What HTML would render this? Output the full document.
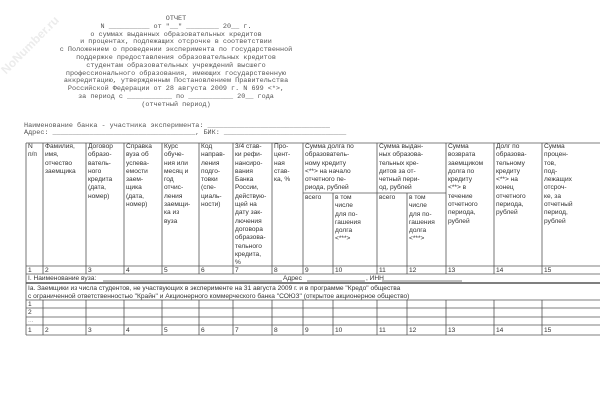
<!DOCTYPE html>
<html><head><meta charset="utf-8"><style>
html,body{margin:0;padding:0;background:#fff;}
body{width:600px;height:420px;position:relative;overflow:hidden;font-family:"Liberation Sans",sans-serif;color:#333;}
.t{position:absolute;left:0;width:352px;top:16px;text-align:center;font-family:"Liberation Mono",monospace;font-size:6.8px;line-height:7.8px;white-space:pre;color:#555;}
.m{position:absolute;font-family:"Liberation Mono",monospace;font-size:6.8px;color:#555;white-space:pre;}
.c{position:absolute;font-size:6.6px;line-height:8.3px;color:#333;white-space:pre;margin-top:2px;}
.wm{position:absolute;left:-8px;top:38px;transform:rotate(-45deg);font-size:12px;font-weight:bold;color:#ececec;font-family:"Liberation Sans",sans-serif;}
svg{position:absolute;left:0;top:0;}
</style></head><body>
<div class="wm">NoNumber.ru</div>
<div class="t">ОТЧЕТ
N __________ от "__" ________ 20__ г.
о суммах выданных образовательных кредитов
и процентах, подлежащих отсрочке в соответствии
с Положением о проведении эксперимента по государственной
поддержке предоставления образовательных кредитов
студентам образовательных учреждений высшего
профессионального образования, имеющих государственную
аккредитацию, утвержденным Постановлением Правительства
Российской Федерации от 28 августа 2009 г. N 699 &lt;*&gt;,
за период с ___________ по ___________ 20__ года
(отчетный период)</div>
<div class="m" style="left:24px;top:122px">Наименование банка - участника эксперимента: ______________________________</div>
<div class="m" style="left:24px;top:129px">Адрес: ___________________________________, БИК: ______________________________</div>
<svg width="600" height="420">
<g stroke="#555" stroke-width="0.8" fill="none">
<line x1="26" y1="143" x2="600" y2="143"/>
<line x1="303" y1="193" x2="446" y2="193"/>
<line x1="26" y1="266" x2="600" y2="266"/>
<line x1="26" y1="274" x2="600" y2="274"/>
<line x1="26" y1="283" x2="600" y2="283" stroke-width="1.4"/>
<line x1="26" y1="300" x2="600" y2="300"/>
<line x1="26" y1="308" x2="600" y2="308"/>
<line x1="26" y1="317" x2="600" y2="317"/>
<line x1="26" y1="325" x2="600" y2="325"/>
<line x1="26" y1="335" x2="600" y2="335"/>
<line x1="26" y1="143" x2="26" y2="335"/>
<g>
<line x1="43" y1="143" x2="43" y2="274"/><line x1="86" y1="143" x2="86" y2="274"/>
<line x1="124" y1="143" x2="124" y2="274"/><line x1="162" y1="143" x2="162" y2="274"/>
<line x1="199" y1="143" x2="199" y2="274"/><line x1="233" y1="143" x2="233" y2="274"/>
<line x1="272" y1="143" x2="272" y2="274"/><line x1="303" y1="143" x2="303" y2="274"/>
<line x1="333" y1="193" x2="333" y2="274"/><line x1="377" y1="143" x2="377" y2="274"/>
<line x1="407" y1="193" x2="407" y2="274"/><line x1="446" y1="143" x2="446" y2="274"/>
<line x1="494" y1="143" x2="494" y2="274"/><line x1="542" y1="143" x2="542" y2="274"/>
</g>
<g>
<line x1="43" y1="300" x2="43" y2="335"/><line x1="86" y1="300" x2="86" y2="335"/>
<line x1="124" y1="300" x2="124" y2="335"/><line x1="162" y1="300" x2="162" y2="335"/>
<line x1="199" y1="300" x2="199" y2="335"/><line x1="233" y1="300" x2="233" y2="335"/>
<line x1="272" y1="300" x2="272" y2="335"/><line x1="303" y1="300" x2="303" y2="335"/>
<line x1="333" y1="300" x2="333" y2="335"/><line x1="377" y1="300" x2="377" y2="335"/>
<line x1="407" y1="300" x2="407" y2="335"/><line x1="446" y1="300" x2="446" y2="335"/>
<line x1="494" y1="300" x2="494" y2="335"/><line x1="542" y1="300" x2="542" y2="335"/>
</g>
<line x1="103" y1="281" x2="282" y2="281"/>
<line x1="307" y1="281" x2="365" y2="281"/>
<line x1="382" y1="281" x2="462" y2="281"/>
</g>
</svg>
<div class="c" style="left:28px;top:141px">N
п/п</div>
<div class="c" style="left:45px;top:141px">Фамилия,
имя,
отчество
заемщика</div>
<div class="c" style="left:88px;top:141px">Договор
образо-
ватель-
ного
кредита
(дата,
номер)</div>
<div class="c" style="left:126px;top:141px">Справка
вуза об
успева-
емости
заем-
щика
(дата,
номер)</div>
<div class="c" style="left:164px;top:141px">Курс
обуче-
ния или
месяц и
год
отчис-
ления
заемщи-
ка из
вуза</div>
<div class="c" style="left:201px;top:141px">Код
направ-
ления
подго-
товки
(спе-
циаль-
ности)</div>
<div class="c" style="left:235px;top:141px">3/4 став-
ки рефи-
нансиро-
вания
Банка
России,
действую-
щей на
дату зак-
лючения
договора
образова-
тельного
кредита,
%</div>
<div class="c" style="left:274px;top:141px">Про-
цент-
ная
став-
ка, %</div>
<div class="c" style="left:305px;top:141px">Сумма долга по
образователь-
ному кредиту
&lt;**&gt; на начало
отчетного пе-
риода, рублей</div>
<div class="c" style="left:379px;top:141px">Сумма выдан-
ных образова-
тельных кре-
дитов за от-
четный пери-
од, рублей</div>
<div class="c" style="left:448px;top:141px">Сумма
возврата
заемщиком
долга по
кредиту
&lt;**&gt; в
течение
отчетного
периода,
рублей</div>
<div class="c" style="left:496px;top:141px">Долг по
образова-
тельному
кредиту
&lt;**&gt; на
конец
отчетного
периода,
рублей</div>
<div class="c" style="left:544px;top:141px">Сумма
процен-
тов,
под-
лежащих
отсроч-
ке, за
отчетный
период,
рублей</div>
<div class="c" style="left:305px;top:192px">всего</div>
<div class="c" style="left:335px;top:192px">в том
числе
для по-
гашения
долга
&lt;***&gt;</div>
<div class="c" style="left:379px;top:192px">всего</div>
<div class="c" style="left:409px;top:192px">в том
числе
для по-
гашения
долга
&lt;***&gt;</div>
<div class="c" style="left:28px;top:265px">1</div><div class="c" style="left:45px;top:265px">2</div><div class="c" style="left:88px;top:265px">3</div><div class="c" style="left:126px;top:265px">4</div><div class="c" style="left:164px;top:265px">5</div><div class="c" style="left:201px;top:265px">6</div><div class="c" style="left:235px;top:265px">7</div><div class="c" style="left:274px;top:265px">8</div><div class="c" style="left:305px;top:265px">9</div><div class="c" style="left:335px;top:265px">10</div><div class="c" style="left:379px;top:265px">11</div><div class="c" style="left:409px;top:265px">12</div><div class="c" style="left:448px;top:265px">13</div><div class="c" style="left:496px;top:265px">14</div><div class="c" style="left:544px;top:265px">15</div>
<div class="c" style="left:28px;top:273px">I. Наименование вуза:</div>
<div class="c" style="left:283px;top:273px">Адрес</div>
<div class="c" style="left:366px;top:273px">, ИНН</div>
<div class="c" style="left:28px;top:283px">Iа. Заемщики из числа студентов, не участвующих в эксперименте на 31 августа 2009 г. и в программе "Кредо" общества
с ограниченной ответственностью "Крайн" и Акционерного коммерческого банка "СОЮЗ" (открытое акционерное общество)</div>
<div class="c" style="left:28px;top:299px">1</div>
<div class="c" style="left:28px;top:307px">2</div>
<div class="c" style="left:28px;top:315px;color:#999">...</div>
<div class="c" style="left:28px;top:325px">1</div><div class="c" style="left:45px;top:325px">2</div><div class="c" style="left:88px;top:325px">3</div><div class="c" style="left:126px;top:325px">4</div><div class="c" style="left:164px;top:325px">5</div><div class="c" style="left:201px;top:325px">6</div><div class="c" style="left:235px;top:325px">7</div><div class="c" style="left:274px;top:325px">8</div><div class="c" style="left:305px;top:325px">9</div><div class="c" style="left:335px;top:325px">10</div><div class="c" style="left:379px;top:325px">11</div><div class="c" style="left:409px;top:325px">12</div><div class="c" style="left:448px;top:325px">13</div><div class="c" style="left:496px;top:325px">14</div><div class="c" style="left:544px;top:325px">15</div>
</body></html>
